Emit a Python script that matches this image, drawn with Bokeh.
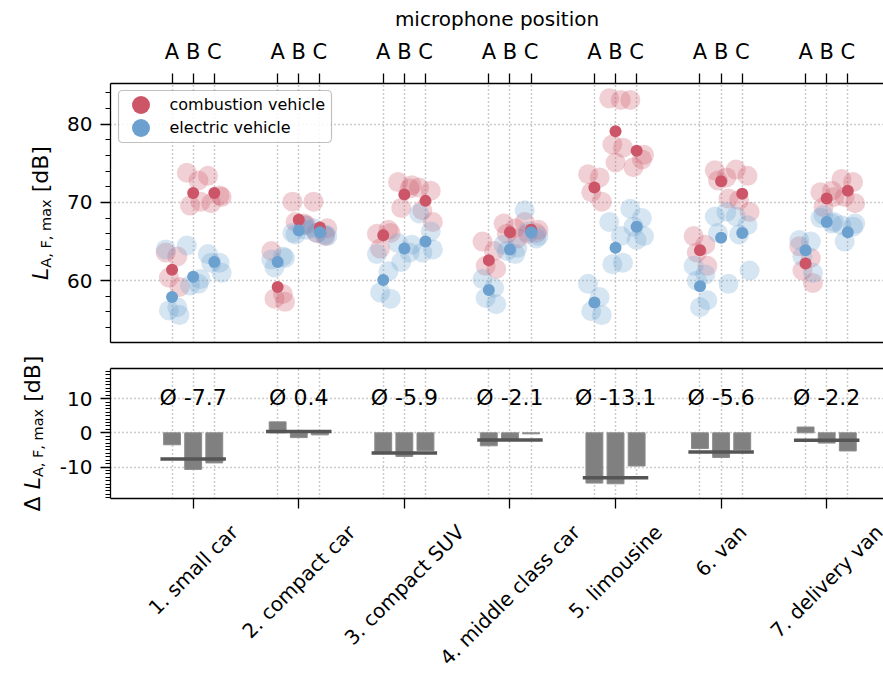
import math
from bokeh.plotting import figure
from bokeh.layouts import column, row
from bokeh.models import (FixedTicker, LinearAxis, Range1d, Legend, LegendItem,
                          BoxAnnotation, CustomJSTickFormatter)
from bokeh.embed import file_html
from bokeh.resources import INLINE
from bokeh.core.properties import value

# ---------------- data ----------------
categories = ["1. small car", "2. compact car", "3. compact SUV", "4. middle class car",
              "5. limousine", "6. van", "7. delivery van"]
mic_positions = ["A", "B", "C"]

# mean L_A,F,max per category at microphone A, B, C
combustion_mean_A = [61.4, 59.2, 65.8, 62.6, 71.9, 63.9, 62.2]
combustion_mean_B = [71.2, 67.8, 71.0, 66.2, 79.1, 72.7, 70.5]
combustion_mean_C = [71.2, 66.8, 70.2, 66.5, 76.6, 71.1, 71.5]
electric_mean_A = [57.9, 62.4, 60.1, 58.8, 57.2, 59.3, 63.9]
electric_mean_B = [60.5, 66.4, 64.1, 64.0, 64.2, 65.5, 67.5]
electric_mean_C = [62.4, 66.2, 65.0, 66.2, 66.9, 66.1, 66.2]

# individual pass-by runs [A, B, C]
comb_runs_small_car = [[63.6, 63.1, 60.4, 59.2], [73.8, 72.8, 69.6, 70.1], [73.4, 70.9, 69.9, 70.7]]
elec_runs_small_car = [[64.0, 56.6, 56.2, 55.6], [64.5, 59.6, 59.4, 60.2], [63.4, 62.3, 62.3, 61.0]]
comb_runs_compact_car = [[63.8, 58.3, 57.7, 57.3], [70.1, 67.3, 67.5, 67.1], [70.1, 65.7, 66.1, 66.7]]
elec_runs_compact_car = [[62.7, 63.1, 61.7, 62.9], [66.1, 67.1, 65.9, 66.5], [66.7, 65.9, 66.1, 65.7]]
comb_runs_compact_suv = [[66.0, 66.5, 64.1, 66.1], [72.6, 71.8, 69.3, 72.2], [71.9, 71.5, 69.0, 67.5]]
elec_runs_compact_suv = [[63.4, 61.2, 58.5, 57.7], [64.8, 63.6, 62.4, 64.6], [68.6, 66.3, 63.6, 64.0]]
comb_runs_middle_class = [[65.0, 63.8, 61.9, 61.5], [67.3, 66.7, 66.0, 65.4], [67.5, 66.1, 66.0, 66.5]]
elec_runs_middle_class = [[60.2, 59.1, 57.8, 57.0], [64.6, 63.4, 63.8, 64.2], [69.0, 65.4, 66.3, 65.7]]
comb_runs_limousine = [[73.6, 73.2, 71.3, 70.1], [83.3, 83.1, 77.4, 77.0, 75.1], [83.1, 75.5, 74.5, 76.1]]
elec_runs_limousine = [[59.6, 57.9, 56.1, 55.6], [67.5, 65.7, 62.1, 62.3], [69.2, 68.0, 66.9, 65.7, 65.2]]
comb_runs_van = [[65.7, 64.6, 63.6, 61.9], [74.1, 73.2, 72.8, 70.5], [74.2, 73.4, 70.3, 68.8]]
elec_runs_van = [[61.9, 60.8, 60.0, 57.5, 56.6], [68.2, 68.8, 66.1, 59.6], [68.2, 67.1, 65.9, 61.3]]
comb_runs_delivery_van = [[64.4, 62.9, 61.3, 59.7], [71.3, 71.5, 69.4, 70.7], [73.0, 72.6, 70.7, 69.9]]
elec_runs_delivery_van = [[65.2, 65.0, 63.1, 61.0], [68.0, 67.3, 68.4, 67.5], [67.1, 66.9, 65.0, 67.3]]

comb_runs = [comb_runs_small_car, comb_runs_compact_car, comb_runs_compact_suv, comb_runs_middle_class,
             comb_runs_limousine, comb_runs_van, comb_runs_delivery_van]
elec_runs = [elec_runs_small_car, elec_runs_compact_car, elec_runs_compact_suv, elec_runs_middle_class,
             elec_runs_limousine, elec_runs_van, elec_runs_delivery_van]
comb_means = [combustion_mean_A, combustion_mean_B, combustion_mean_C]
elec_means = [electric_mean_A, electric_mean_B, electric_mean_C]

# ---------------- style / layout ----------------
FONT = "DejaVu Sans"
RED = "#cc5568"
BLUE = "#6ca0cf"
GRID = "#9a9a9a"
mic_offset = [-0.2, 0.0, 0.2]
jitter = [-0.06, 0.05, -0.03, 0.07, 0.0]
X_START, X_END = -0.783, 6.538

PAGE_W, PAGE_H = 883, 677
LAB_W = 56                 # strip holding the y-axis titles
MAIN_W = PAGE_W - LAB_W
FRAME_LEFT = 107
TOP_BORDER, TOP_FRAME, TOP_BOTTOM = 83, 259, 10
BOT_TOP, BOT_FRAME, BOT_BOTTOM = 16, 130, 12
TOP_H = TOP_BORDER + TOP_FRAME + TOP_BOTTOM
BOT_H = BOT_TOP + BOT_FRAME + BOT_BOTTOM
CAT_H = PAGE_H - TOP_H - BOT_H

CHAR_EM = {"0": .636, "1": .636, "2": .636, "3": .636, "4": .636, "5": .636, "6": .636, "7": .636,
           ".": .318, " ": .318, ",": .318, "a": .613, "c": .55, "d": .635, "e": .615, "i": .278,
           "l": .278, "m": .974, "n": .634, "o": .612, "p": .635, "r": .411, "s": .521, "t": .392,
           "u": .634, "v": .592, "y": .592, "h": .634, "x": .592, "S": .635, "U": .732, "V": .684,
           "A": .684, "B": .686, "F": .575, "L": .557, "[": .39, "]": .39, "\u0394": .684}


def text_width(s, px):
    return sum(CHAR_EM.get(ch, 0.6) for ch in s) * px


PLAIN_FMT = "return tick.toFixed(0);"


def style_axis(ax):
    ax.axis_line_color = "black"
    ax.axis_line_width = 1.3
    ax.major_tick_line_color = "black"
    ax.major_tick_line_width = 1.3
    ax.minor_tick_line_color = "black"
    ax.minor_tick_line_width = 1.0
    ax.major_tick_in = 0
    ax.minor_tick_in = 0
    ax.major_label_text_font = FONT
    ax.major_label_text_font_size = "20px"
    ax.major_label_text_color = "black"


def style_grid(fig):
    for g in (fig.xgrid[0], fig.ygrid[0]):
        g.grid_line_color = GRID
        g.grid_line_dash = "1 3"
        g.grid_line_width = 1.5


def bare_figure(w, h, xr, yr, left=0):
    f = figure(width=w, height=h, x_range=xr, y_range=yr, x_axis_location=None,
               y_axis_location=None, output_backend="svg", toolbar_location=None,
               min_border_left=left, min_border_right=0, min_border_top=0, min_border_bottom=0)
    f.outline_line_color = None
    f.grid.visible = False
    return f


mic_ticks = [ci + off for ci in range(len(categories)) for off in mic_offset]

# ---------------- top panel ----------------
p = figure(width=MAIN_W, height=TOP_H, x_range=Range1d(X_START, X_END), y_range=Range1d(52.1, 85.2),
           x_axis_location="above", output_backend="svg", toolbar_location=None,
           min_border_left=FRAME_LEFT - LAB_W, min_border_right=0,
           min_border_top=TOP_BORDER, min_border_bottom=TOP_BOTTOM)
p.outline_line_color = None

for runs, color in ((comb_runs, RED), (elec_runs, BLUE)):
    fx, fy = [], []
    for ci, cat_runs in enumerate(runs):
        for mi, vals in enumerate(cat_runs):
            for k, v in enumerate(vals):
                fx.append(ci + mic_offset[mi] + jitter[k % len(jitter)])
                fy.append(v)
    p.scatter(fx, fy, size=20, fill_color=color, fill_alpha=0.28, line_color=None)

mean_renderers = []
for means, color in ((comb_means, RED), (elec_means, BLUE)):
    mx, my = [], []
    for mi, vals in enumerate(means):
        for ci, v in enumerate(vals):
            mx.append(ci + mic_offset[mi])
            my.append(v)
    mean_renderers.append(p.scatter(mx, my, size=12, fill_color=color, line_color=None))

p.xgrid.ticker = FixedTicker(ticks=mic_ticks)
p.ygrid.ticker = FixedTicker(ticks=[60, 70, 80])
style_grid(p)

top_ax = p.xaxis[0]
style_axis(top_ax)
top_ax.ticker = FixedTicker(ticks=mic_ticks)
top_ax.formatter = CustomJSTickFormatter(
    code="const k = Math.round((tick - Math.round(tick)) * 5); return ['A','B','C'][k + 1];")
top_ax.major_tick_out = 10
top_ax.major_label_standoff = 10
top_ax.major_label_text_font_size = "21px"
top_ax.axis_label = "microphone position"
top_ax.axis_label_text_font = FONT
top_ax.axis_label_text_font_size = "20px"
top_ax.axis_label_text_font_style = "normal"
top_ax.axis_label_text_color = "black"
top_ax.axis_label_standoff = 6

ly = p.yaxis[0]
style_axis(ly)
ly.ticker = FixedTicker(ticks=[60, 70, 80], minor_ticks=list(range(52, 86, 2)))
ly.formatter = CustomJSTickFormatter(code=PLAIN_FMT)
ly.major_tick_out = 10
ly.minor_tick_out = 5
ly.major_label_standoff = 8

p.add_layout(LinearAxis(ticker=FixedTicker(ticks=[]), major_tick_out=0, minor_tick_out=0,
                        major_label_standoff=0, axis_line_width=1.3, axis_line_color="black"), "below")

# legend: framed box + one single-row legend per vehicle type
p.add_layout(BoxAnnotation(left=8, right=221, top=TOP_FRAME - 7, bottom=TOP_FRAME - 59,
                           left_units="screen", right_units="screen", top_units="screen",
                           bottom_units="screen", fill_color="white", fill_alpha=0.85,
                           line_color="#333333", line_width=1.2, border_radius=4))
GLYPH = 45
for i, (lab, rend) in enumerate(zip(["combustion vehicle", "electric vehicle"], mean_renderers)):
    row_center = 21 + 23 * i          # px below frame top
    leg = Legend(items=[LegendItem(label=lab, renderers=[rend])],
                 location=(7.5, TOP_FRAME - row_center - GLYPH / 2),
                 glyph_width=GLYPH, glyph_height=GLYPH, padding=0, margin=0, spacing=0,
                 label_standoff=7, label_text_font=FONT, label_text_font_size="16px",
                 label_text_color="black", border_line_color=None, background_fill_alpha=0)
    p.add_layout(leg)

# ---------------- bottom panel ----------------
q = figure(width=MAIN_W, height=BOT_H, x_range=p.x_range, y_range=Range1d(-19.2, 18.8),
           output_backend="svg", toolbar_location=None,
           min_border_left=FRAME_LEFT - LAB_W, min_border_right=0,
           min_border_top=BOT_TOP, min_border_bottom=BOT_BOTTOM)
q.outline_line_color = None
q.xgrid.ticker = FixedTicker(ticks=mic_ticks)
q.ygrid.ticker = FixedTicker(ticks=[-10, 0, 10])
style_grid(q)

bx, btop = [], []
avg_x0, avg_x1, avg_y, avg_txt = [], [], [], []
for ci in range(len(categories)):
    deltas = []
    for mi in range(3):
        d = elec_means[mi][ci] - comb_means[mi][ci]
        deltas.append(d)
        bx.append(ci + mic_offset[mi])
        btop.append(d)
    avg = sum(deltas) / 3
    avg_x0.append(ci - 0.31)
    avg_x1.append(ci + 0.31)
    avg_y.append(avg)
    avg_txt.append("\u00d8 %.1f" % avg)

q.vbar(x=bx, top=btop, bottom=0, width=0.16, fill_color="#808080", line_color="#8c8c8c", line_width=1)
q.segment(x0=avg_x0, x1=avg_x1, y0=avg_y, y1=avg_y, line_color="#555555", line_width=3.5)
q.text(x=list(range(len(categories))), y=[10.4] * len(categories), text=avg_txt,
       text_font=value(FONT), text_font_size="22px", text_align="center",
       text_baseline="alphabetic", text_color="black")

bx_ax = q.xaxis[0]
style_axis(bx_ax)
bx_ax.ticker = FixedTicker(ticks=list(range(len(categories))))
bx_ax.major_tick_out = 10
bx_ax.major_label_standoff = 0
bx_ax.major_label_text_font_size = "1px"
bx_ax.formatter = CustomJSTickFormatter(code="return '';")

lq = q.yaxis[0]
style_axis(lq)
lq.ticker = FixedTicker(ticks=[-10, 0, 10], minor_ticks=list(range(-19, 19)))
lq.formatter = CustomJSTickFormatter(code=PLAIN_FMT)
lq.major_tick_out = 10
lq.minor_tick_out = 5
lq.major_label_standoff = 8

q.add_layout(LinearAxis(ticker=FixedTicker(ticks=[]), major_tick_out=0, minor_tick_out=0,
                        major_label_standoff=0, axis_line_width=1.3, axis_line_color="black"), "above")

# ---------------- rotated category labels (strip below the bottom panel) ----------------
cats_fig = bare_figure(MAIN_W, CAT_H, p.x_range, Range1d(-CAT_H, 0), left=FRAME_LEFT - LAB_W)
CAT_PX = 20
cat_y = []
for cat in categories:
    w = text_width(cat, CAT_PX)
    h = 1.16 * CAT_PX
    cat_y.append(-(10 + (w + h) * 0.7071 / 2))
cats_fig.text(x=list(range(len(categories))), y=cat_y, text=categories, angle=math.pi / 4,
              text_font=value(FONT), text_font_size=f"{CAT_PX}px", text_align="center",
              text_baseline="middle", text_color="black")

# ---------------- y-axis titles (strip on the left) ----------------
lab_fig = bare_figure(LAB_W, PAGE_H, Range1d(0, LAB_W), Range1d(-PAGE_H, 0))


def y_title(parts, x0, y_start):
    """parts: (text, px, style, dx); written bottom-to-top starting at page row y_start."""
    y = y_start
    for text, size, style, dx in parts:
        stripped = text.lstrip(" ")
        y -= text_width(text[:len(text) - len(stripped)], size)
        lab_fig.text(x=[x0 + dx], y=[-y], text=[stripped.rstrip(" ")], angle=math.pi / 2,
                     text_font=value(FONT), text_font_size=f"{size}px", text_font_style=style,
                     text_align="left", text_baseline="alphabetic", text_color="black")
        y -= text_width(stripped, size)


MAIN_PX, SUB_PX = 22, 14.5
top_parts = [("L", MAIN_PX, "italic", 0), ("A, F, max", SUB_PX, "normal", 5), (" [dB]", MAIN_PX, "normal", 0)]
bot_parts = [("\u0394 ", MAIN_PX, "normal", 0)] + top_parts
top_len = sum(text_width(t, s) for t, s, _, _ in top_parts)
bot_len = sum(text_width(t, s) for t, s, _, _ in bot_parts)
top_center = TOP_BORDER + TOP_FRAME / 2
bot_center = TOP_H + BOT_TOP + BOT_FRAME / 2
y_title(top_parts, 40, top_center + top_len / 2)
y_title(bot_parts, 32, bot_center + bot_len / 2)

layout = row(lab_fig, column(p, q, cats_fig, spacing=0), spacing=0)
open("out.html", "w").write(file_html(layout, INLINE))
